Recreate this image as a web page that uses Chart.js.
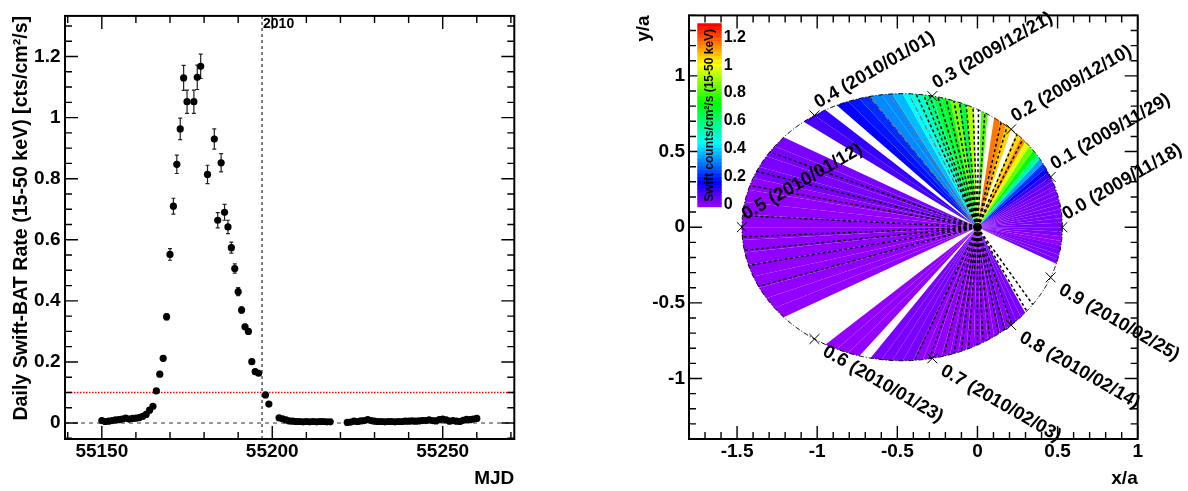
<!DOCTYPE html>
<html><head><meta charset="utf-8">
<script src="https://cdn.jsdelivr.net/npm/chart.js@4.4.1/dist/chart.umd.min.js"></script>
<style>
html,body{margin:0;padding:0;background:#fff;}
#wrap{position:relative;width:1188px;height:491px;overflow:hidden;background:#fff;}
canvas{position:absolute;top:0;}
</style></head><body>
<div id="wrap">
<canvas id="lc" width="594" height="491" style="left:0px;width:594px;height:491px"></canvas>
<canvas id="rc" width="594" height="491" style="left:594px;width:594px;height:491px"></canvas>
<canvas id="cb" width="70" height="230" style="left:690px;width:70px;height:230px"></canvas>
</div>
<script>
// ================= LEFT PANEL DATA =================
const mjd = [55150,55151,55152,55153,55154,55155,55156,55157,55158,55159,55160,55161,55162,55163,55164,55165,
  55166,55167,55168,55169,55170,55171,55172,55173,55174,55175,55177,55178,55179,55181,55183,55184,55185,55186,
  55187,55188,55189,55190,55191,55192,55193,55194,55195,55196,55198,55199,
  55202,55203,55204,55205,55206,55207,55208,55209,55210,55211,55212,55213,55214,55215,55216,55217,
  55222,55223,55224,55225,55226,55227,55228,55229,55230,55231,55232,55233,55234,55235,55236,55237,55238,55239,
  55240,55241,55242,55243,55244,55245,55246,55247,55248,55249,55250,55251,55252,55253,55254,55255,55256,55257,
  55258,55259,55260];
const rate = [0.008,0.005,0.006,0.008,0.010,0.011,0.013,0.016,0.013,0.015,0.016,0.018,0.022,0.028,0.042,0.055,
  0.105,0.160,0.212,0.348,0.552,0.710,0.847,0.963,1.130,1.052,1.052,1.132,1.168,0.814,0.930,0.664,0.852,0.690,
  0.642,0.574,0.506,0.430,0.370,0.315,0.300,0.201,0.168,0.163,0.092,0.062,
  0.017,0.014,0.010,0.007,0.006,0.005,0.005,0.004,0.005,0.004,0.005,0.004,0.005,0.005,0.004,0.004,
  0.002,0.003,0.006,0.005,0.007,0.008,0.011,0.008,0.006,0.005,0.005,0.004,0.005,0.005,0.004,0.005,0.005,0.006,
  0.006,0.007,0.006,0.007,0.008,0.008,0.010,0.008,0.007,0.011,0.013,0.010,0.006,0.008,0.006,0.005,0.009,0.012,
  0.011,0.013,0.015];
const rateErr = [0.004,0.004,0.004,0.004,0.004,0.004,0.004,0.004,0.004,0.004,0.004,0.004,0.004,0.004,0.005,0.005,
  0.006,0.007,0.008,0.010,0.019,0.026,0.030,0.035,0.041,0.038,0.038,0.040,0.040,0.030,0.033,0.025,0.030,0.026,
  0.022,0.018,0.015,0.013,0.010,0.008,0.008,0.006,0.006,0.006,0.005,0.004,
  0.003,0.003,0.003,0.003,0.003,0.003,0.003,0.003,0.003,0.003,0.003,0.003,0.003,0.003,0.003,0.003,
  0.003,0.003,0.003,0.003,0.003,0.003,0.003,0.003,0.003,0.003,0.003,0.003,0.003,0.003,0.003,0.003,0.003,0.003,
  0.003,0.003,0.003,0.003,0.003,0.003,0.003,0.003,0.003,0.003,0.003,0.003,0.003,0.003,0.003,0.003,0.003,0.003,
  0.003,0.003,0.003];
const xTicksLeft = [55150, 55200, 55250];
const yTicksLeft = [0, 0.2, 0.4, 0.6, 0.8, 1, 1.2];
const thresholdRate = 0.1;
const newYearMJD = 55197;
const newYearLabel = '2010';

// ================= RIGHT PANEL DATA =================
const phaseMarks = [0.0, 0.1, 0.2, 0.3, 0.4, 0.5, 0.6, 0.7, 0.8, 0.9];
const phaseDates = ['2009/11/18','2009/11/29','2009/12/10','2009/12/21','2010/01/01',
                    '2010/01/12','2010/01/23','2010/02/03','2010/02/14','2010/02/25'];
const orbitA = 1.0;
const orbitEcc = 0.47;
const orbitPeriod = 110;        // days
const wedgeEpochMJD = 55155;    // day mapped to angle 0 for the coloured wedges
const orbitMaskDays = [55225,55246,55247,55248,55249,55250,55251,55252,55253,55254,55255,55256];
const dashedAngles = [64,68,74.5,78,86.5,89.5,92,95,97.7,100,103,106,109,111,113.5,
                      159,165,169,177,182.5,186,190,196,
                      246,251,256,260,263,266,270,272.6,276,280.6,284,288.4,299,304];
const greyDashAngles = [116, 122, 128];
const xTicksRight = [-1.5, -1, -0.5, 0, 0.5, 1];
const yTicksRight = [-1, -0.5, 0, 0.5, 1];
const colorbarTicks = [0, 0.2, 0.4, 0.6, 0.8, 1, 1.2];
const zMin = -0.02, zMax = 1.30;

// ================= HELPERS =================
const FONT = '"Liberation Sans", Arial, Helvetica, sans-serif';
const bold = (s) => ({family: FONT, size: s, weight: 'bold'});
const NCOL = 50;
function paletteIndexColor(idx){
  const hue = 280 - (idx + 1) * (280 / NCOL);
  return `hsl(${hue.toFixed(2)},100%,50%)`;
}
function paletteColor(v){
  let idx = Math.floor((v - zMin) / (zMax - zMin) * NCOL);
  idx = Math.max(0, Math.min(NCOL - 1, idx));
  return paletteIndexColor(idx);
}
const orbitR = th => orbitA * (1 - orbitEcc * orbitEcc) / (1 + orbitEcc * Math.cos(th));
const orbitXY = th => ({x: orbitR(th) * Math.cos(th), y: orbitR(th) * Math.sin(th)});
function range(a, b, step){ const out=[]; const n=Math.round((b-a)/step); for(let i=0;i<=n;i++) out.push(+(a+i*step).toFixed(6)); return out; }

function frameTicks(chart, xMaj, xMin, yMaj, yMin){
  const {ctx, chartArea: a, scales} = chart;
  const X = scales.x, Y = scales.y;
  ctx.save();
  ctx.strokeStyle = '#000';
  ctx.lineWidth = 1.4;
  ctx.beginPath();
  const xt = (vals, len) => vals.forEach(v => {
    const p = X.getPixelForValue(v);
    if (p < a.left - 0.5 || p > a.right + 0.5) return;
    ctx.moveTo(p, a.bottom); ctx.lineTo(p, a.bottom - len);
    ctx.moveTo(p, a.top); ctx.lineTo(p, a.top + len);
  });
  const yt = (vals, len) => vals.forEach(v => {
    const p = Y.getPixelForValue(v);
    if (p < a.top - 0.5 || p > a.bottom + 0.5) return;
    ctx.moveTo(a.left, p); ctx.lineTo(a.left + len, p);
    ctx.moveTo(a.right, p); ctx.lineTo(a.right - len, p);
  });
  xt(xMaj, 13); xt(xMin, 7); yt(yMaj, 13); yt(yMin, 7);
  ctx.stroke();
  ctx.lineWidth = 2;
  ctx.strokeRect(a.left, a.top, a.right - a.left, a.bottom - a.top);
  ctx.restore();
}

// ================= LEFT CHART =================
const xMinL = 55139.2, xMaxL = 55271, yMinL = -0.0523, yMaxL = 1.333;
const leftPoints = mjd.map((m, i) => ({x: m, y: rate[i]}));

const errorBarPlugin = {
  id: 'errbars',
  beforeDatasetsDraw(chart){
    const {ctx, scales: {x, y}} = chart;
    ctx.save();
    ctx.strokeStyle = '#222'; ctx.lineWidth = 1.2;
    ctx.beginPath();
    mjd.forEach((m, i) => {
      const px = x.getPixelForValue(m);
      const p1 = y.getPixelForValue(rate[i] + rateErr[i]);
      const p2 = y.getPixelForValue(rate[i] - rateErr[i]);
      ctx.moveTo(px, p1); ctx.lineTo(px, p2);
      ctx.moveTo(px - 2, p1); ctx.lineTo(px + 2, p1);
      ctx.moveTo(px - 2, p2); ctx.lineTo(px + 2, p2);
    });
    ctx.stroke();
    ctx.restore();
  },
  afterDraw(chart){
    const {ctx, scales: {x, y}} = chart;
    frameTicks(chart, xTicksLeft, range(55140, 55270, 10), yTicksLeft, range(-0.05, 1.3, 0.05));
    ctx.save();
    ctx.font = `bold 14px ${FONT}`; ctx.fillStyle = '#000'; ctx.textBaseline = 'alphabetic';
    ctx.fillText(newYearLabel, x.getPixelForValue(newYearMJD) + 1, 28);
    ctx.restore();
  }
};

new Chart(document.getElementById('lc'), {
  type: 'line',
  data: { datasets: [
    { data: leftPoints, showLine: false, pointRadius: 3.6, pointBackgroundColor: '#000', pointBorderColor: '#000', pointBorderWidth: 0, order: 0 },
    { data: [{x: newYearMJD, y: yMinL}, {x: newYearMJD, y: yMaxL}], borderColor: '#000', borderWidth: 1, borderDash: [3, 3], pointRadius: 0, order: 1 },
    { data: [{x: xMinL, y: thresholdRate}, {x: xMaxL, y: thresholdRate}], borderColor: '#ff0000', borderWidth: 1.5, borderDash: [1.5, 1.5], pointRadius: 0, order: 2 },
    { data: [{x: xMinL, y: 0}, {x: xMaxL, y: 0}], borderColor: '#555', borderWidth: 1.2, borderDash: [4, 4], pointRadius: 0, order: 3 }
  ]},
  options: {
    responsive: false, animation: false, events: [],
    layout: {padding: {left: 0, top: 7.5, right: 79.7, bottom: 0}},
    plugins: {legend: {display: false}, tooltip: {enabled: false}},
    scales: {
      x: { type: 'linear', min: xMinL, max: xMaxL,
        grid: {display: false, drawTicks: false}, border: {display: false},
        afterFit(s){ s.height = 52; },
        afterBuildTicks(s){ s.ticks = xTicksLeft.map(v => ({value: v})); },
        ticks: {font: bold(19), color: '#000', padding: 1, maxRotation: 0, autoSkip: false, callback: v => String(v)},
        title: {display: true, text: 'MJD', align: 'end', font: bold(19), color: '#000', padding: {top: 0, bottom: 1.2}}
      },
      y: { type: 'linear', min: yMinL, max: yMaxL,
        grid: {display: false, drawTicks: false}, border: {display: false},
        afterFit(s){ s.width = 65; },
        afterBuildTicks(s){ s.ticks = yTicksLeft.map(v => ({value: v})); },
        ticks: {font: bold(19), color: '#000', padding: 4.5, autoSkip: false, callback: v => String(v)},
        title: {display: true, text: 'Daily Swift-BAT Rate (15-50 keV) [cts/cm\u00B2/s]', align: 'end', font: bold(19.6), color: '#000', padding: {top: 9.5, bottom: 0}}
      }
    }
  },
  plugins: [errorBarPlugin]
});

// ================= RIGHT CHART =================
const xMinR = -1.8, xMaxR = 1.0, yMinR = -1.4, yMaxR = 1.4;
const rightSets = [];
const DEG = Math.PI / 180;
// coloured wedges, one per day
mjd.forEach((m, i) => {
  if (orbitMaskDays.includes(m)) return;
  const t1 = 2 * Math.PI * (m - wedgeEpochMJD) / orbitPeriod;
  const t2 = 2 * Math.PI * (m + 1 - wedgeEpochMJD) / orbitPeriod;
  const pts = [{x: 0, y: 0}];
  for (let k = 0; k <= 4; k++) pts.push(orbitXY(t1 + (t2 - t1) * k / 4));
  pts.push({x: 0, y: 0});
  const c = paletteColor(rate[i]);
  rightSets.push({data: pts, fill: 'shape', backgroundColor: c, borderColor: 'rgba(0,0,0,0)', borderWidth: 0, pointRadius: 0, order: 10});
});
// radial dashed lines
dashedAngles.forEach(a => rightSets.push({data: [{x: 0, y: 0}, orbitXY(a * DEG)], borderColor: '#000', borderWidth: 1.5, borderDash: [3, 2.5], pointRadius: 0, fill: false, order: 6}));
greyDashAngles.forEach(a => rightSets.push({data: [{x: 0, y: 0}, orbitXY(a * DEG)], borderColor: '#777', borderWidth: 1.2, borderDash: [5, 2, 1, 2], pointRadius: 0, fill: false, order: 7}));
// orbit outline
const ell = [];
for (let k = 0; k <= 720; k++) ell.push(orbitXY(2 * Math.PI * k / 720));
rightSets.push({data: ell, borderColor: '#000', borderWidth: 1, borderDash: [5, 2, 1, 2], pointRadius: 0, fill: false, order: 4});
// phase marks
rightSets.push({data: phaseMarks.map(p => orbitXY(2 * Math.PI * p)), showLine: false, pointStyle: 'crossRot', pointRadius: 7, pointBorderColor: '#000', pointBorderWidth: 1, order: 2});
// central star
rightSets.push({data: [{x: 0, y: 0}], showLine: false, pointRadius: 4, pointBackgroundColor: '#000', pointBorderColor: '#000', order: 1});

const phaseLabelPlugin = {
  id: 'phaseLabels',
  afterDraw(chart){
    const {ctx, scales: {x, y}} = chart;
    frameTicks(chart, xTicksRight, range(-1.8, 1.0, 0.1), yTicksRight, range(-1.4, 1.4, 0.1));
    ctx.save();
    ctx.font = `bold 18.5px ${FONT}`; ctx.fillStyle = '#000'; ctx.textAlign = 'left'; ctx.textBaseline = 'alphabetic';
    phaseMarks.forEach((ph, i) => {
      const p = orbitXY(2 * Math.PI * ph);
      const px = x.getPixelForValue(p.x), py = y.getPixelForValue(p.y);
      const upper = ph <= 0.5;
      ctx.save();
      ctx.translate(px, py);
      ctx.rotate(upper ? -Math.PI / 6 : Math.PI / 6);
      ctx.fillText(`${ph.toFixed(1)} (${phaseDates[i]})`, upper ? 7 : 14, upper ? -4 : 10);
      ctx.restore();
    });
    ctx.restore();
  }
};

new Chart(document.getElementById('rc'), {
  type: 'line',
  data: {datasets: rightSets},
  options: {
    responsive: false, animation: false, events: [],
    layout: {padding: {left: 0, top: 7.5, right: 50.3, bottom: 0}},
    plugins: {legend: {display: false}, tooltip: {enabled: false}},
    scales: {
      x: { type: 'linear', min: xMinR, max: xMaxR,
        grid: {display: false, drawTicks: false}, border: {display: false},
        afterFit(s){ s.height = 52; },
        afterBuildTicks(s){ s.ticks = xTicksRight.map(v => ({value: v})); },
        ticks: {font: bold(19), color: '#000', padding: 1, maxRotation: 0, autoSkip: false, callback: v => String(v)},
        title: {display: true, text: 'x/a', align: 'end', font: bold(19), color: '#000', padding: {top: 0, bottom: 1.2}}
      },
      y: { type: 'linear', min: yMinR, max: yMaxR,
        grid: {display: false, drawTicks: false}, border: {display: false},
        afterFit(s){ s.width = 95; },
        afterBuildTicks(s){ s.ticks = yTicksRight.map(v => ({value: v})); },
        ticks: {font: bold(19), color: '#000', padding: 4, autoSkip: false, callback: v => String(v)},
        title: {display: true, text: 'y/a', align: 'end', font: bold(19), color: '#000', padding: {top: 38, bottom: 0}}
      }
    }
  },
  plugins: [phaseLabelPlugin]
});

// ================= COLOUR BAR =================
const dz = (zMax - zMin) / NCOL;
const cbSets = [];
for (let i = 0; i < NCOL; i++) {
  cbSets.push({data: [[zMin + i * dz, zMin + (i + 1) * dz + 0.002]], backgroundColor: paletteIndexColor(i), borderWidth: 0, barPercentage: 1, categoryPercentage: 1, grouped: false});
}
const cbTitlePlugin = {
  id: 'cbTitle',
  afterDraw(chart){
    const {ctx, chartArea: a} = chart;
    ctx.save();
    ctx.font = `bold 12px ${FONT}`; ctx.fillStyle = '#000';
    ctx.textAlign = 'center'; ctx.textBaseline = 'middle';
    ctx.translate((a.left + a.right) / 2 + 0.5, (a.top + a.bottom) / 2);
    ctx.rotate(-Math.PI / 2);
    ctx.fillText('Swift counts/cm\u00B2/s (15-50 keV)', 0, 0);
    ctx.restore();
  }
};
new Chart(document.getElementById('cb'), {
  type: 'bar',
  data: {labels: [''], datasets: cbSets},
  options: {
    responsive: false, animation: false, events: [],
    layout: {padding: {left: 7.3, top: 23.3, right: 0, bottom: 22.7}},
    plugins: {legend: {display: false}, tooltip: {enabled: false}},
    scales: {
      x: {display: false},
      y: { position: 'right', min: zMin, max: zMax,
        grid: {display: false, drawTicks: false}, border: {display: false},
        afterFit(s){ s.width = 38.3; },
        afterBuildTicks(s){ s.ticks = colorbarTicks.map(v => ({value: v})); },
        ticks: {font: bold(16), color: '#000', padding: 2, autoSkip: false, callback: v => String(v)}
      }
    }
  },
  plugins: [cbTitlePlugin]
});
</script>
</body></html>
